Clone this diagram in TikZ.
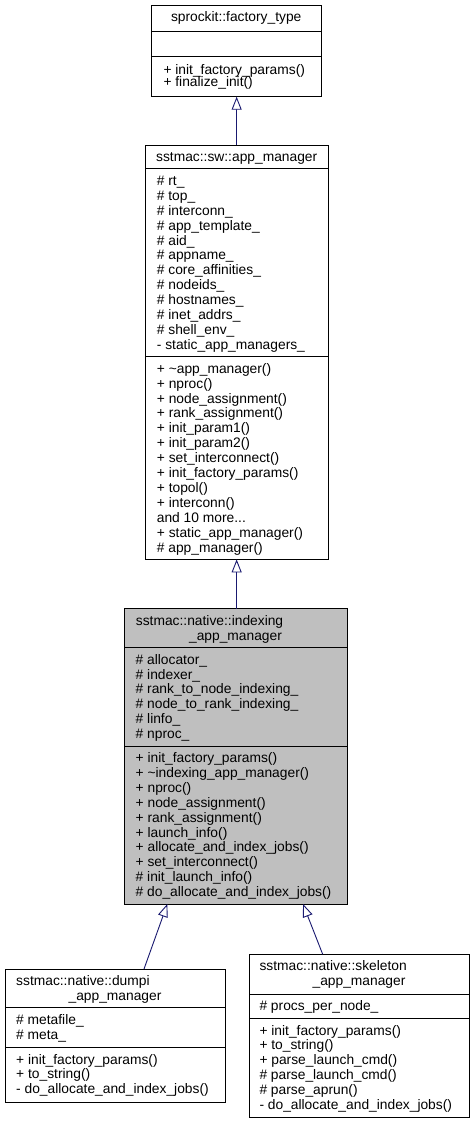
\documentclass[tikz,border=0pt]{standalone}
\usepackage{fontspec}
\setmainfont{Liberation Sans}
\usetikzlibrary{arrows.meta}
\definecolor{edgeblue}{HTML}{191970}
\definecolor{boxgray}{HTML}{BFBFBF}
\newcommand\threedots{...}
\tikzset{
  cls/.style={draw=black, line width=0.9pt, inner sep=0pt, outer sep=0pt, anchor=north west, rectangle, fill=white},
  txt/.style={inner sep=0pt, anchor=base west, font=\fontsize{13.8}{14.9}\selectfont},
  ttl/.style={inner sep=0pt, anchor=base, font=\fontsize{13.8}{14.9}\selectfont},
  sepline/.style={draw=black, line width=0.9pt},
  inh/.style={draw=edgeblue, line width=0.9pt, -{Triangle[open, length=13pt, width=10pt, fill=white]}},
}
\begin{document}
\begin{tikzpicture}[x=1pt, y=-1pt]
\fill[white] (0,0) rectangle (475,1124);
\useasboundingbox (0,0) rectangle (475,1124);

% ---------- box 1: sprockit::factory_type ----------
\node[cls, minimum width=169.7pt, minimum height=91.7pt] (b1) at (151.3,5) {};
\draw[sepline] ([yshift=-26.7pt]b1.north west) -- ([yshift=-26.7pt]b1.north east);
\draw[sepline] ([yshift=-51.7pt]b1.north west) -- ([yshift=-51.7pt]b1.north east);
\node[ttl] (b1t) at (236.2,21.2) {sprockit::factory\_type};
\foreach \t [count=\i] in {+ init\_factory\_params(), + finalize\_init()}
  \node[txt] (b1m\i) at (163.3,{74.3+(\i-1)*12.2}) {\t};

% ---------- box 2: sstmac::sw::app_manager ----------
\node[cls, minimum width=183.3pt, minimum height=414.4pt] (b2) at (145,145) {};
\draw[sepline] ([yshift=-23.9pt]b2.north west) -- ([yshift=-23.9pt]b2.north east);
\draw[sepline] ([yshift=-211.7pt]b2.north west) -- ([yshift=-211.7pt]b2.north east);
\node[ttl] (b2t) at (236.7,161.5) {sstmac::sw::app\_manager};
\foreach \t [count=\i] in {\# rt\_, \# top\_, \# interconn\_, \# app\_template\_, \# aid\_, \# appname\_, \# core\_affinities\_, \# nodeids\_, \# hostnames\_, \# inet\_addrs\_, \# shell\_env\_, - static\_app\_managers\_}
  \node[txt] (b2a\i) at (156.7,{185.4+(\i-1)*14.9}) {\t};
\foreach \t [count=\i] in {+ \textasciitilde app\_manager(), + nproc(), + node\_assignment(), + rank\_assignment(), + init\_param1(), + init\_param2(), + set\_interconnect(), + init\_factory\_params(), + topol(), + interconn(), and 10 more\threedots, + static\_app\_manager(), \# app\_manager()}
  \node[txt] (b2m\i) at (156.7,{373.2+(\i-1)*14.9}) {\t};

% ---------- box 3: sstmac::native::indexing_app_manager ----------
\node[cls, fill=boxgray, minimum width=223pt, minimum height=295.2pt] (b3) at (124.3,608.8) {};
\draw[sepline] ([yshift=-38.8pt]b3.north west) -- ([yshift=-38.8pt]b3.north east);
\draw[sepline] ([yshift=-137.2pt]b3.north west) -- ([yshift=-137.2pt]b3.north east);
\node[txt] (b3t1) at (135.7,625.3) {sstmac::native::indexing};
\node[ttl] (b3t2) at (235.5,640.2) {\_app\_manager};
\foreach \t [count=\i] in {\# allocator\_, \# indexer\_, \# rank\_to\_node\_indexing\_, \# node\_to\_rank\_indexing\_, \# linfo\_, \# nproc\_}
  \node[txt] (b3a\i) at (135.5,{664.1+(\i-1)*14.9}) {\t};
\foreach \t [count=\i] in {+ init\_factory\_params(), + \textasciitilde indexing\_app\_manager(), + nproc(), + node\_assignment(), + rank\_assignment(), + launch\_info(), + allocate\_and\_index\_jobs(), + set\_interconnect(), \# init\_launch\_info(), \# do\_allocate\_and\_index\_jobs()}
  \node[txt] (b3m\i) at (135.5,{762.5+(\i-1)*14.9}) {\t};

% ---------- box 4: sstmac::native::dumpi_app_manager ----------
\node[cls, minimum width=220.3pt, minimum height=133.7pt] (b4) at (5,969) {};
\draw[sepline] ([yshift=-38.8pt]b4.north west) -- ([yshift=-38.8pt]b4.north east);
\draw[sepline] ([yshift=-78.5pt]b4.north west) -- ([yshift=-78.5pt]b4.north east);
\node[txt] (b4t1) at (16,985.5) {sstmac::native::dumpi};
\node[ttl] (b4t2) at (115,1000.4) {\_app\_manager};
\foreach \t [count=\i] in {\# metafile\_, \# meta\_}
  \node[txt] (b4a\i) at (16,{1024.3+(\i-1)*14.9}) {\t};
\foreach \t [count=\i] in {+ init\_factory\_params(), + to\_string(), - do\_allocate\_and\_index\_jobs()}
  \node[txt] (b4m\i) at (16,{1064+(\i-1)*14.9}) {\t};

% ---------- box 5: sstmac::native::skeleton_app_manager ----------
\node[cls, minimum width=220pt, minimum height=163.4pt] (b5) at (249,954.3) {};
\draw[sepline] ([yshift=-39.7pt]b5.north west) -- ([yshift=-39.7pt]b5.north east);
\draw[sepline] ([yshift=-64.2pt]b5.north west) -- ([yshift=-64.2pt]b5.north east);
\node[txt] (b5t1) at (259.3,970.8) {sstmac::native::skeleton};
\node[ttl] (b5t2) at (359,985.7) {\_app\_manager};
\node[txt] (b5a1) at (259.3,1010.5) {\# procs\_per\_node\_};
\foreach \t [count=\i] in {+ init\_factory\_params(), + to\_string(), + parse\_launch\_cmd(), \# parse\_launch\_cmd(), \# parse\_aprun(), - do\_allocate\_and\_index\_jobs()}
  \node[txt] (b5m\i) at (259.3,{1035+(\i-1)*14.9}) {\t};

% ---------- inheritance connectors ----------
\draw[inh] (b2.north) -- (b2.north |- b1.south);
\draw[inh] (b3.north -| b2.south) -- (b2.south);
\draw[inh] ([xshift=28.85pt]b4.north) -- ([xshift=-68.5pt]b3.south);
\draw[inh] ([xshift=-36.3pt]b5.north) -- ([xshift=67.2pt]b3.south);
\end{tikzpicture}
\end{document}
